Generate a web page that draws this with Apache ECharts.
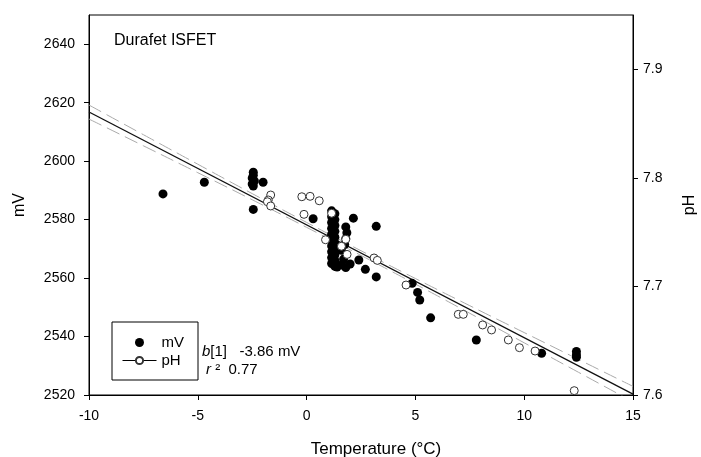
<!DOCTYPE html>
<html>
	<head>
		<meta charset="utf-8">
		<title></title>
		<script src="https://cdn.jsdelivr.net/npm/echarts@6/dist/echarts.min.js"></script>
		<style type="text/css">
			html, body {
				margin: 0;
				padding: 0;
				background: #fff;
			}

			#chart {
				width: 701px;
				height: 457px;
			}
		</style>
	</head>
	<body>
		<div id="chart"></div>
		<script>
			// tick labels
			const tempTicks = [-10, -5, 0, 5, 10, 15];
			const mvTicks = [2520, 2540, 2560, 2580, 2600, 2620, 2640];
			const phTicks = [7.6, 7.7, 7.8, 7.9];

			// mV readings (filled dots)
			const mvTemp = [-6.6, -4.7, -2.45, -2.45, -2.5, -2.4, -2.5, -2.45, -2.0, -2.45, 0.3,
				1.15, 1.15, 1.15, 1.15, 1.15, 1.15, 1.15, 1.15, 1.15, 1.15,
				1.3, 1.3, 1.3, 1.3, 1.3, 1.3, 1.3, 1.3, 1.3, 1.3,
				1.4, 1.6, 1.8, 2.0, 1.7,
				1.8, 1.85, 1.8, 1.75, 1.6,
				2.15, 2.4, 2.7, 3.2, 3.2, 4.85, 5.1, 5.2, 5.7, 7.8, 10.8, 12.4, 12.4, 12.4];
			const mvValues = [2588.8, 2592.8, 2596.2, 2595.2, 2594.2, 2593.2, 2592.2, 2591.5, 2592.8, 2583.5, 2580.3,
				2583, 2581, 2579, 2577, 2575, 2573, 2571, 2569, 2567, 2565,
				2582, 2580, 2578, 2576, 2574, 2572, 2570, 2568, 2566, 2564,
				2563.8, 2564.5, 2563.6, 2564.8, 2566.5,
				2577.5, 2575.5, 2573.5, 2571.5, 2569.5,
				2580.5, 2566.2, 2563, 2560.4, 2577.7, 2558.2, 2555.1, 2552.5, 2546.4, 2538.8, 2534.3, 2534.9, 2533.8, 2532.9];

			// pH readings (open circles, right axis)
			const phTemp = [-1.65, -1.76, -1.8, -1.65, -0.22, 0.16, 0.58, -0.12, 1.15, 0.87, 1.8, 1.6, 1.86,
				3.1, 3.25, 4.57, 6.97, 7.2, 8.09, 8.5, 9.27, 9.78, 10.5, 12.3];
			const phValues = [7.7842, 7.7796, 7.778, 7.7741, 7.7826, 7.783, 7.7789, 7.7664, 7.7674, 7.743, 7.7434, 7.737, 7.7295,
				7.7262, 7.724, 7.7013, 7.6743, 7.6743, 7.6645, 7.6599, 7.6507, 7.6436, 7.6405, 7.604];

			// regression line and its confidence band (mV)
			const fitTemp = [-10, 15];
			const fitMv = [2616.8, 2520.3];
			const bandTemp = [-10, -7.5, -5, -2.5, 0, 2.5, 5, 7.5, 10, 12.5, 15];
			const bandUpper = [2619.2, 2609.05, 2598.95, 2588.9, 2579.05, 2569.35, 2559.85, 2550.55, 2541.35, 2532.15, 2522.95];
			const bandLower = [2614.4, 2605.25, 2596.05, 2586.8, 2577.35, 2567.75, 2557.95, 2547.95, 2537.85, 2527.75, 2517.65];

			const font = "'Liberation Sans', Arial, sans-serif";

			function zip(xs, ys) {
				return xs.map((x, i) => [x, ys[i]]);
			}

			var chart = echarts.init(document.getElementById('chart'));

			var axisLine = { show: true, onZero: false, lineStyle: { color: '#000', width: 1 } };

			var option = {
				animation: false,
				textStyle: { fontFamily: font },
				grid: {
					left: 89,
					right: 68,
					top: 15,
					bottom: 62,
					outerBoundsMode: 'none',
					show: true,
					borderColor: '#000',
					borderWidth: 1
				},
				xAxis: {
					type: 'value',
					min: -10,
					max: 15,
					interval: 5,
					name: 'Temperature (°C)',
					nameLocation: 'middle',
					nameGap: 46,
					nameTextStyle: { fontSize: 17, color: '#000', padding: [0, 0, 0, 30] },
					axisLine: axisLine,
					axisTick: { show: true, length: 5, customValues: tempTicks, lineStyle: { color: '#000' } },
					axisLabel: { fontSize: 14, color: '#000', margin: 14, customValues: tempTicks },
					splitLine: { show: false }
				},
				yAxis: [{
					type: 'value',
					position: 'left',
					min: 2520,
					max: 2650,
					name: 'mV',
					nameLocation: 'middle',
					nameGap: 61,
					nameTextStyle: { fontSize: 16, color: '#000' },
					axisLine: axisLine,
					axisTick: { show: true, length: 5, customValues: mvTicks, lineStyle: { color: '#000' } },
					axisLabel: {
						fontSize: 14,
						color: '#000',
						margin: 14,
						customValues: mvTicks,
						formatter: function(v) {
							return String(v);
						}
					},
					splitLine: { show: false }
				}, {
					type: 'value',
					position: 'right',
					min: 7.6,
					max: 7.95,
					name: 'pH',
					nameLocation: 'middle',
					nameGap: 49,
					nameTextStyle: { fontSize: 16, color: '#000' },
					axisLine: axisLine,
					axisTick: { show: true, length: 5, customValues: phTicks, lineStyle: { color: '#000' } },
					axisLabel: {
						fontSize: 14,
						color: '#000',
						margin: 10,
						customValues: phTicks,
						formatter: function(v) {
							return Number(v).toFixed(1);
						}
					},
					splitLine: { show: false }
				}],
				legend: {
					orient: 'vertical',
					left: 112,
					top: 322,
					padding: [13, 14, 12, 10],
					itemGap: 3,
					itemWidth: 34,
					itemHeight: 9,
					borderColor: '#000',
					borderWidth: 1,
					selectedMode: false,
					textStyle: { fontSize: 15, color: '#000' },
					data: [
						{ name: 'mV' },
						{ name: 'pH', lineStyle: { opacity: 1, color: '#000', width: 1 } }
					]
				},
				graphic: [{
					type: 'text',
					left: 114,
					top: 33,
					style: { text: 'Durafet ISFET', fontSize: 16, fontFamily: font, fill: '#000' }
				}, {
					type: 'text',
					left: 202,
					top: 344,
					style: {
						text: '{i|b}[1]   -3.86 mV',
						fontSize: 15,
						fontFamily: font,
						fill: '#000',
						rich: { i: { fontStyle: 'italic', fontSize: 15, fontFamily: font } }
					}
				}, {
					type: 'text',
					left: 206,
					top: 362,
					style: {
						text: '{i|r} ²  0.77',
						fontSize: 15,
						fontFamily: font,
						fill: '#000',
						rich: { i: { fontStyle: 'italic', fontSize: 15, fontFamily: font } }
					}
				}],
				series: [{
					name: 'upper',
					type: 'line',
					data: zip(bandTemp, bandUpper),
					smooth: true,
					symbol: 'none',
					silent: true,
					z: 1,
					lineStyle: { color: '#aaa', width: 1, type: [14, 6] }
				}, {
					name: 'lower',
					type: 'line',
					data: zip(bandTemp, bandLower),
					smooth: true,
					symbol: 'none',
					silent: true,
					z: 1,
					lineStyle: { color: '#aaa', width: 1, type: [14, 6] }
				}, {
					name: 'fit',
					type: 'line',
					data: zip(fitTemp, fitMv),
					symbol: 'none',
					silent: true,
					z: 2,
					lineStyle: { color: '#111', width: 1.3 }
				}, {
					name: 'mV',
					type: 'scatter',
					data: zip(mvTemp, mvValues),
					symbol: 'circle',
					symbolSize: 9,
					z: 3,
					itemStyle: { color: '#000', opacity: 1 }
				}, {
					name: 'pH',
					type: 'line',
					yAxisIndex: 1,
					data: zip(phTemp, phValues),
					symbol: 'circle',
					symbolSize: 8,
					showSymbol: true,
					z: 4,
					lineStyle: { opacity: 0, width: 0 },
					itemStyle: { color: '#fff', borderColor: '#333', borderWidth: 1, opacity: 1 }
				}]
			};

			chart.setOption(option);
		</script>
	</body>
</html>
